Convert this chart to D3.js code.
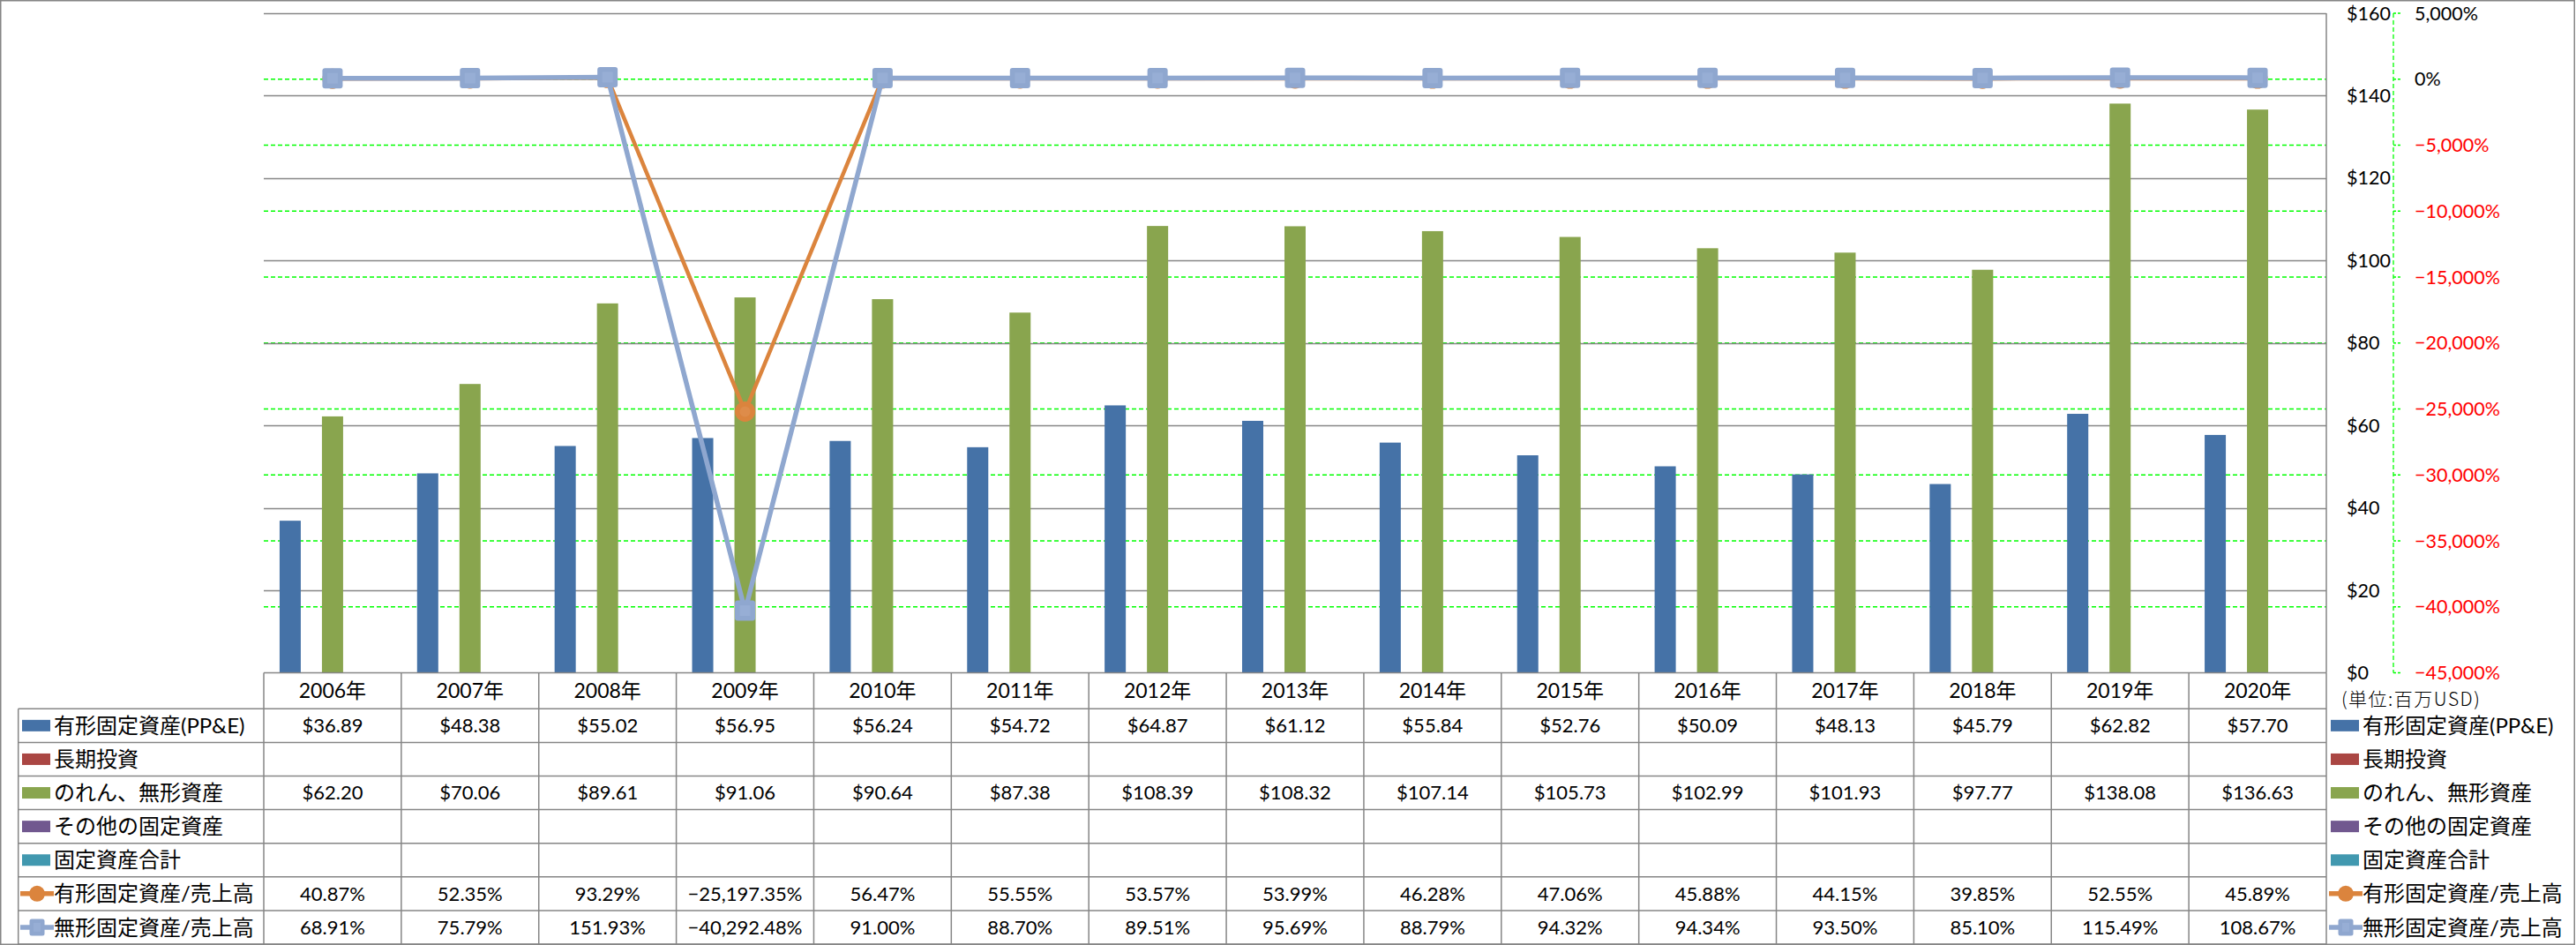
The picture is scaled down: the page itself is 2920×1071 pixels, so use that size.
<!DOCTYPE html>
<html>
<head>
<meta charset="utf-8">
<script src="https://cdn.jsdelivr.net/npm/d3@7"></script>
<style>
  html, body { margin: 0; padding: 0; background: #fff; }
  svg { display: block; }
  text { font-family: Lato, "Noto Sans CJK JP", sans-serif; fill: #000; }
</style>
</head>
<body>
<script>
// ---------- DATA ----------
const years = ["2006年","2007年","2008年","2009年","2010年","2011年","2012年","2013年","2014年","2015年","2016年","2017年","2018年","2019年","2020年"];
const ppe = [36.89, 48.38, 55.02, 56.95, 56.24, 54.72, 64.87, 61.12, 55.84, 52.76, 50.09, 48.13, 45.79, 62.82, 57.70];
const longTermInv = [null, null, null, null, null, null, null, null, null, null, null, null, null, null, null];
const goodwill = [62.20, 70.06, 89.61, 91.06, 90.64, 87.38, 108.39, 108.32, 107.14, 105.73, 102.99, 101.93, 97.77, 138.08, 136.63];
const otherFixed = [null, null, null, null, null, null, null, null, null, null, null, null, null, null, null];
const totalFixed = [null, null, null, null, null, null, null, null, null, null, null, null, null, null, null];
const ppeRatio = [40.87, 52.35, 93.29, -25197.35, 56.47, 55.55, 53.57, 53.99, 46.28, 47.06, 45.88, 44.15, 39.85, 52.55, 45.89];
const intangRatio = [68.91, 75.79, 151.93, -40292.48, 91.00, 88.70, 89.51, 95.69, 88.79, 94.32, 94.34, 93.50, 85.10, 115.49, 108.67];
const yTicks = [0, 20, 40, 60, 80, 100, 120, 140, 160];
const y2Ticks = [-45000, -40000, -35000, -30000, -25000, -20000, -15000, -10000, -5000, 0, 5000];
const seriesNames = ["有形固定資産(PP&E)", "長期投資", "のれん、無形資産", "その他の固定資産", "固定資産合計", "有形固定資産/売上高", "無形固定資産/売上高"];
const unitLabel = "(単位:百万USD)";

// ---------- STYLE / LAYOUT ----------
const W = 2920, H = 1071;
const plotL = 299, plotR = 2637, plotT = 15, plotB = 762.5;
const rowTop0 = 803.3, rowH = 38.1;
const gray = "#868686";
const green = "#00FF00";
const colors = ["#4572A7", "#AA4643", "#89A54E", "#71588F", "#4198AF", "#DB843D", "#8FA7CF"];
const barSeries = [ppe, longTermInv, goodwill, otherFixed, totalFixed];
const fontNum = 22;

const svg = d3.select("body").append("svg").attr("width", W).attr("height", H);

// scales
const x = d3.scaleBand().domain(years).range([plotL, plotR]).paddingInner(0).paddingOuter(0);
const xInner = d3.scaleBand().domain(d3.range(5)).range([0, x.bandwidth()]).paddingInner(0).paddingOuter(0.747);
const y = d3.scaleLinear().domain([0, 160]).range([plotB, plotT]);
const y2 = d3.scaleLinear().domain([-45000, 5000]).range([plotB, plotT]);

// outer border
svg.append("rect").attr("x", 0.75).attr("y", 0.75).attr("width", W - 2.5).attr("height", H - 1.5)
  .attr("fill", "none").attr("stroke", gray).attr("stroke-width", 1.5);

// secondary gridlines (green dashed)
svg.append("g").selectAll("line").data(y2Ticks.filter(d => d !== -45000 && d !== 5000)).join("line")
  .attr("x1", plotL).attr("x2", plotR).attr("y1", d => y2(d)).attr("y2", d => y2(d))
  .attr("stroke", green).attr("stroke-width", 1.3).attr("stroke-dasharray", "5,3");

// primary gridlines (gray)
svg.append("g").selectAll("line").data(yTicks.filter(d => d !== 0)).join("line")
  .attr("x1", plotL).attr("x2", plotR).attr("y1", d => Math.round(y(d)) + 0.5).attr("y2", d => Math.round(y(d)) + 0.5)
  .attr("stroke", gray).attr("stroke-width", 1.5);

// primary axis line at the right edge of the plot
svg.append("line").attr("x1", plotR).attr("x2", plotR).attr("y1", plotT).attr("y2", plotB)
  .attr("stroke", gray).attr("stroke-width", 1.5);

// bars
barSeries.forEach((vals, si) => {
  svg.append("g").selectAll("rect").data(vals.map((v, i) => ({ v, yr: years[i] })).filter(d => d.v != null)).join("rect")
    .attr("x", d => x(d.yr) + xInner(si))
    .attr("width", xInner.bandwidth())
    .attr("y", d => y(d.v))
    .attr("height", d => y(0) - y(d.v))
    .attr("fill", colors[si]);
});

// primary axis labels (right side)
svg.append("g").selectAll("text").data(yTicks).join("text")
  .attr("x", 2660).attr("y", d => y(d)).attr("dy", "0.35em")
  .attr("font-size", 21.5).text(d => "$" + d);

// secondary axis (green dashed line + ticks)
const ax2x = 2713;
svg.append("line").attr("x1", ax2x).attr("x2", ax2x).attr("y1", plotT).attr("y2", plotB)
  .attr("stroke", green).attr("stroke-width", 1.3).attr("stroke-dasharray", "5,3");
svg.append("g").selectAll("line").data(y2Ticks).join("line")
  .attr("x1", ax2x).attr("x2", ax2x + 8).attr("y1", d => y2(d)).attr("y2", d => y2(d))
  .attr("stroke", green).attr("stroke-width", 1.3).attr("stroke-dasharray", "3,2");
svg.append("g").selectAll("text").data(y2Ticks).join("text")
  .attr("x", 2737).attr("y", d => y2(d)).attr("dy", "0.35em")
  .attr("font-size", 21.5)
  .style("fill", d => d < 0 ? "#FF0000" : "#000")
  .text(d => d3.format(",")(d) + "%");

// lines
function drawLine(vals, color, marker) {
  const line = d3.line().x((d, i) => x(years[i]) + x.bandwidth() / 2).y(d => y2(d));
  svg.append("path").datum(vals).attr("d", line).attr("fill", "none")
    .attr("stroke", color).attr("stroke-width", marker === "circle" ? 4.5 : 5.5).attr("stroke-linejoin", "round");
  const g = svg.append("g");
  vals.forEach((v, i) => {
    const cx = x(years[i]) + x.bandwidth() / 2, cy = y2(v);
    if (marker === "circle") {
      g.append("circle").attr("cx", cx).attr("cy", cy).attr("r", 11.5).attr("fill", "#DB843D");
      g.append("circle").attr("cx", cx).attr("cy", cy).attr("r", 6).attr("fill", "#DE8C4A");
    } else {
      g.append("rect").attr("x", cx - 11.5).attr("y", cy - 11.5).attr("width", 23).attr("height", 23).attr("rx", 3).attr("fill", "#8FA7CF");
      g.append("rect").attr("x", cx - 6).attr("y", cy - 6).attr("width", 12).attr("height", 12).attr("fill", "#97AED5");
    }
  });
}
drawLine(ppeRatio, "#DB843D", "circle");
drawLine(intangRatio, "#8FA7CF", "square");

// ---------- DATA TABLE ----------
const tg = svg.append("g");
tg.append("line").attr("x1", plotL).attr("x2", plotR).attr("y1", plotB).attr("y2", plotB).attr("stroke", gray).attr("stroke-width", 1.5);
d3.range(8).forEach(k => {
  const yy = rowTop0 + k * rowH;
  tg.append("line").attr("x1", 20.7).attr("x2", plotR).attr("y1", yy).attr("y2", yy).attr("stroke", gray).attr("stroke-width", 1.5);
});
tg.append("line").attr("x1", 20.7).attr("x2", 20.7).attr("y1", rowTop0).attr("y2", rowTop0 + 7 * rowH).attr("stroke", gray).attr("stroke-width", 1.5);
years.forEach(yr => {
  tg.append("line").attr("x1", x(yr)).attr("x2", x(yr)).attr("y1", plotB).attr("y2", rowTop0 + 7 * rowH).attr("stroke", gray).attr("stroke-width", 1.5);
});
tg.append("line").attr("x1", plotR).attr("x2", plotR).attr("y1", plotB).attr("y2", H).attr("stroke", gray).attr("stroke-width", 1.5);

// header
tg.selectAll("text.hdr").data(years).join("text").attr("class", "hdr")
  .attr("x", d => x(d) + x.bandwidth() / 2).attr("y", (plotB + rowTop0) / 2).attr("dy", "0.36em")
  .attr("text-anchor", "middle").attr("font-size", 23).text(d => d);

// value rows
const money = v => v == null ? "" : "$" + d3.format(",.2f")(v);
const pct = v => v == null ? "" : d3.format(",.2f")(v) + "%";
const rowsData = [
  ppe.map(money), longTermInv.map(money), goodwill.map(money), otherFixed.map(money), totalFixed.map(money),
  ppeRatio.map(pct), intangRatio.map(pct)
];
rowsData.forEach((row, r) => {
  const cy = rowTop0 + r * rowH + rowH / 2;
  row.forEach((s, i) => {
    if (!s) return;
    tg.append("text").attr("x", x(years[i]) + x.bandwidth() / 2).attr("y", cy).attr("dy", "0.36em")
      .attr("text-anchor", "middle").attr("font-size", fontNum).text(s);
  });
});

// legend keys (left in table, and right legend)
function legendKey(g, x0, cy, si) {
  if (si < 5) {
    g.append("rect").attr("x", x0).attr("y", cy - 6.5).attr("width", 32).attr("height", 13).attr("fill", colors[si]);
  } else {
    const c = colors[si];
    g.append("line").attr("x1", x0 - 2).attr("x2", x0 + 36).attr("y1", cy).attr("y2", cy).attr("stroke", c).attr("stroke-width", 5.5);
    if (si === 5) {
      g.append("circle").attr("cx", x0 + 17).attr("cy", cy).attr("r", 9).attr("fill", c);
    } else {
      g.append("rect").attr("x", x0 + 8.5).attr("y", cy - 9.5).attr("width", 17).attr("height", 19).attr("rx", 2.5).attr("fill", c);
      g.append("rect").attr("x", x0 + 13).attr("y", cy - 5).attr("width", 8).attr("height", 10).attr("fill", "#97AED5");
    }
  }
}
seriesNames.forEach((name, si) => {
  const cy = rowTop0 + si * rowH + rowH / 2;
  legendKey(tg, 25, cy, si);
  tg.append("text").attr("x", 61).attr("y", cy).attr("dy", "0.36em").attr("font-size", 24).text(name);
  legendKey(tg, 2642, cy, si);
  tg.append("text").attr("x", 2678).attr("y", cy).attr("dy", "0.36em").attr("font-size", 24).text(name);
});

// unit label
svg.append("text").attr("x", 2654).attr("y", 792).attr("dy", "0.36em")
  .attr("font-size", 21).attr("letter-spacing", 1.5).style("font-weight", 300)
  .style("font-family", "'Noto Sans CJK JP', sans-serif").text(unitLabel);
</script>
</body>
</html>
